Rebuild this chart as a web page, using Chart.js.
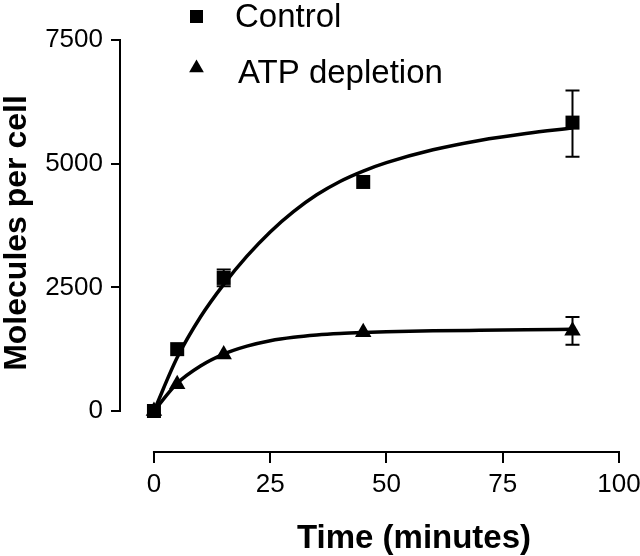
<!DOCTYPE html>
<html>
<head>
<meta charset="utf-8">
<script src="https://cdn.jsdelivr.net/npm/chart.js@4/dist/chart.umd.min.js"></script>
<style>
    body { margin: 0; background: #fff; }
    canvas { display: block; }
</style>
</head>
<body>
<canvas id="uptakeChart" width="640" height="556"></canvas>
<script>
// measured points
const timePoints = [0, 5, 15, 45, 90];
const controlValues = [0, 1250, 2690, 4630, 5830];
const atpValues = [0, 540, 1140, 1590, 1620];

// error bars (null = hidden behind the marker)
const controlErrLow = [null, null, 2520, null, 5140];
const controlErrHigh = [null, null, 2860, null, 6480];
const atpErrLow = [null, null, null, null, 1340];
const atpErrHigh = [null, null, null, null, 1900];

// fitted curves
const fitTimes = [0, 5, 10, 15, 20, 25, 30, 35, 40, 45, 50, 60, 70, 80, 90];
const controlFit = [0, 1080, 1900, 2560, 3130, 3620, 4030, 4370, 4640, 4850, 5020, 5280, 5470, 5610, 5720];
const atpFit = [0, 560, 910, 1150, 1310, 1420, 1490, 1535, 1565, 1585, 1600, 1620, 1632, 1642, 1650];

const xTicks = [0, 25, 50, 75, 100];
const yTicks = [0, 2500, 5000, 7500];

const seriesLabels = ['Control', 'ATP depletion'];
const xTitle = 'Time (minutes)';
const yTitle = 'Molecules per cell';

function toXY(xs, ys) {
    return xs.map((x, i) => ({ x: x, y: ys[i] }));
}

// axes drawn offset from each other, like the original
const offsetAxes = {
    id: 'offsetAxes',
    afterDraw(chart) {
        const ctx = chart.ctx;
        const x = chart.scales.x;
        const y = chart.scales.y;
        ctx.save();
        ctx.strokeStyle = '#000';
        ctx.lineWidth = 2;
        ctx.beginPath();
        ctx.moveTo(chart.chartArea.left, y.getPixelForValue(yTicks[yTicks.length - 1]) - 1);
        ctx.lineTo(chart.chartArea.left, y.getPixelForValue(yTicks[0]) + 1);
        ctx.moveTo(x.getPixelForValue(xTicks[0]) - 1, chart.chartArea.bottom);
        ctx.lineTo(x.getPixelForValue(xTicks[xTicks.length - 1]) + 1, chart.chartArea.bottom);
        ctx.stroke();

        // axis titles
        ctx.fillStyle = '#000';
        ctx.font = 'bold 33px "Liberation Sans", Arial, sans-serif';
        ctx.textAlign = 'center';
        ctx.textBaseline = 'alphabetic';
        ctx.fillText(xTitle, 414, 548);

        ctx.translate(26, 233);
        ctx.rotate(-Math.PI / 2);
        ctx.font = 'bold 32px "Liberation Sans", Arial, sans-serif';
        ctx.fillText(yTitle, 0, 0);
        ctx.restore();
    }
};

const errorBars = {
    id: 'errorBars',
    afterDatasetsDraw(chart) {
        const ctx = chart.ctx;
        const x = chart.scales.x;
        const y = chart.scales.y;
        ctx.save();
        ctx.strokeStyle = '#000';
        ctx.lineWidth = 2;
        [[controlErrLow, controlErrHigh], [atpErrLow, atpErrHigh]].forEach(pair => {
            timePoints.forEach((t, i) => {
                if (pair[0][i] == null) return;
                const px = x.getPixelForValue(t);
                const lo = y.getPixelForValue(pair[0][i]);
                const hi = y.getPixelForValue(pair[1][i]);
                ctx.beginPath();
                ctx.moveTo(px, lo);
                ctx.lineTo(px, hi);
                ctx.moveTo(px - 7, lo);
                ctx.lineTo(px + 7, lo);
                ctx.moveTo(px - 7, hi);
                ctx.lineTo(px + 7, hi);
                ctx.stroke();
            });
        });
        ctx.restore();
    }
};

// legend in the upper part of the plot
const topLegend = {
    id: 'topLegend',
    afterDraw(chart) {
        const ctx = chart.ctx;
        ctx.save();
        ctx.fillStyle = '#000';
        ctx.strokeStyle = '#000';
        ctx.font = '33px "Liberation Sans", Arial, sans-serif';
        ctx.textAlign = 'left';
        ctx.textBaseline = 'alphabetic';
        Chart.helpers.drawPoint(ctx, { pointStyle: 'rect', radius: 9.2, borderWidth: 0 }, 196.5, 16.5);
        ctx.fillText(chart.data.datasets[0].label, 235, 27);
        Chart.helpers.drawPoint(ctx, { pointStyle: 'triangle', radius: 8.5, borderWidth: 0 }, 196.5, 68);
        ctx.fillText(chart.data.datasets[1].label, 238, 83);
        ctx.restore();
    }
};

function renderChart() {
    const ctx = document.getElementById('uptakeChart').getContext('2d');
    new Chart(ctx, {
        type: 'scatter',
        data: {
            datasets: [
                {
                    label: seriesLabels[0],
                    data: toXY(timePoints, controlValues),
                    pointStyle: 'rect',
                    pointRadius: 9.9,
                    backgroundColor: '#000',
                    borderColor: '#000',
                    borderWidth: 0
                },
                {
                    label: seriesLabels[1],
                    data: toXY(timePoints, atpValues),
                    pointStyle: 'triangle',
                    pointRadius: 9.5,
                    backgroundColor: '#000',
                    borderColor: '#000',
                    borderWidth: 0
                },
                {
                    label: 'Control fit',
                    data: toXY(fitTimes, controlFit),
                    showLine: true,
                    pointRadius: 0,
                    borderColor: '#000',
                    borderWidth: 3.5,
                    cubicInterpolationMode: 'monotone'
                },
                {
                    label: 'ATP depletion fit',
                    data: toXY(fitTimes, atpFit),
                    showLine: true,
                    pointRadius: 0,
                    borderColor: '#000',
                    borderWidth: 3.5,
                    cubicInterpolationMode: 'monotone'
                }
            ]
        },
        options: {
            responsive: false,
            animation: false,
            layout: { padding: { top: 40, right: 21, left: 0, bottom: 0 } },
            plugins: {
                legend: { display: false },
                tooltip: { enabled: false }
            },
            scales: {
                x: {
                    type: 'linear',
                    min: -7.3,
                    max: 100,
                    afterBuildTicks: scale => { scale.ticks = xTicks.map(v => ({ value: v })); },
                    afterFit: scale => {
                        scale.height = 104;
                        scale.paddingLeft = 0;
                        scale.paddingRight = 0;
                    },
                    border: { display: false },
                    grid: { display: true, drawOnChartArea: false, drawTicks: true, tickLength: 11, color: '#000', lineWidth: 2 },
                    ticks: {
                        color: '#000', padding: 6, maxRotation: 0,
                        callback: v => String(v),
                        font: { size: 26, family: '"Liberation Sans", Arial, sans-serif' }
                    }
                },
                y: {
                    type: 'linear',
                    min: -829,
                    max: 7500,
                    afterBuildTicks: scale => { scale.ticks = yTicks.map(v => ({ value: v })); },
                    afterFit: scale => {
                        scale.width = 120;
                        scale.paddingTop = 0;
                        scale.paddingBottom = 0;
                    },
                    border: { display: false },
                    grid: { display: true, drawOnChartArea: false, drawTicks: true, tickLength: 9, color: '#000', lineWidth: 2 },
                    ticks: {
                        color: '#000', padding: 8,
                        callback: v => String(v),
                        font: { size: 26, family: '"Liberation Sans", Arial, sans-serif' }
                    }
                }
            }
        },
        plugins: [errorBars, offsetAxes, topLegend]
    });
}

window.onload = function() {
    renderChart();
};
</script>
</body>
</html>
